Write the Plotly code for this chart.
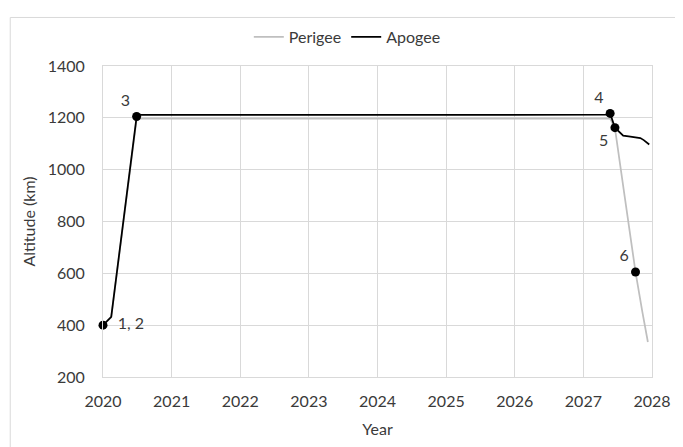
import plotly.graph_objects as go

# Data
perigee_year = [2020.0, 2020.12, 2020.49, 2020.55, 2027.39, 2027.46, 2027.60, 2027.76, 2027.86, 2027.94]
perigee_alt = [400, 430, 1195, 1197, 1197, 1160, 900, 605, 450, 335]

apogee_year = [2020.0, 2020.12, 2020.49, 2020.55, 2027.36, 2027.39, 2027.46, 2027.52, 2027.58,
               2027.66, 2027.74, 2027.83, 2027.88, 2027.96]
apogee_alt = [400, 432, 1205, 1211, 1212, 1217, 1162, 1145, 1131, 1128, 1124, 1122, 1114, 1097]

event_year = [2020.0, 2020.49, 2027.39, 2027.46, 2027.76]
event_alt = [400, 1205, 1217, 1162, 605]
event_label = ["  1, 2", "3", "4", "5", "6"]
event_pos = ["middle right", "top left", "top left", "bottom left", "top left"]

x_ticks = [2020, 2021, 2022, 2023, 2024, 2025, 2026, 2027, 2028]
y_ticks = [200, 400, 600, 800, 1000, 1200, 1400]

FONT = "Lato, 'Open Sans', sans-serif"
TXT = "#3a3a3a"
FS = 16

fig = go.Figure()
fig.add_trace(go.Scatter(x=perigee_year, y=perigee_alt, mode="lines", name="Perigee",
                         line=dict(color="#bfbfbf", width=1.75)))
fig.add_trace(go.Scatter(x=apogee_year, y=apogee_alt, mode="lines", name="Apogee",
                         line=dict(color="#000000", width=1.75)))
fig.add_trace(go.Scatter(x=event_year, y=event_alt, mode="markers+text", showlegend=False,
                         marker=dict(color="#000000", size=9),
                         text=event_label, textposition=event_pos,
                         textfont=dict(family=FONT, size=FS, color=TXT), cliponaxis=False))

# The page body adds an 8px offset; sizes/margins compensate for it.
fig.update_layout(
    width=675, height=439,
    margin=dict(l=95, r=25, t=50, b=68),
    paper_bgcolor="white", plot_bgcolor="white",
    font=dict(family=FONT, size=FS, color=TXT),
    showlegend=True,
    legend=dict(orientation="h", x=0.445, xanchor="center", y=1.093, yanchor="middle",
                font=dict(size=FS, color=TXT), itemwidth=30, tracegroupgap=0,
                bgcolor="rgba(0,0,0,0)"),
    xaxis=dict(range=[2020, 2028], tickvals=x_ticks, ticktext=[str(v) for v in x_ticks],
               showgrid=True, gridcolor="#d9d9d9", gridwidth=1, zeroline=False,
               showline=True, linecolor="#d9d9d9", linewidth=1, mirror=True,
               ticks="", ticklabelstandoff=10,
               title=dict(text="Year", font=dict(size=FS, color=TXT), standoff=14)),
    yaxis=dict(range=[200, 1400], tickvals=y_ticks,
               showgrid=True, gridcolor="#d9d9d9", gridwidth=1, zeroline=False,
               showline=True, linecolor="#d9d9d9", linewidth=1, mirror=True,
               ticks="", ticklabelstandoff=14,
               title=dict(text="Altitude (km)", font=dict(size=FS, color=TXT), standoff=8)),
    shapes=[dict(type="rect", xref="paper", yref="paper",
                 x0=-0.169, x1=1.08, y0=-0.3, y1=1.156,
                 line=dict(color="#d9d9d9", width=1), fillcolor="rgba(0,0,0,0)", layer="below")],
)

fig.write_html("out.html")
